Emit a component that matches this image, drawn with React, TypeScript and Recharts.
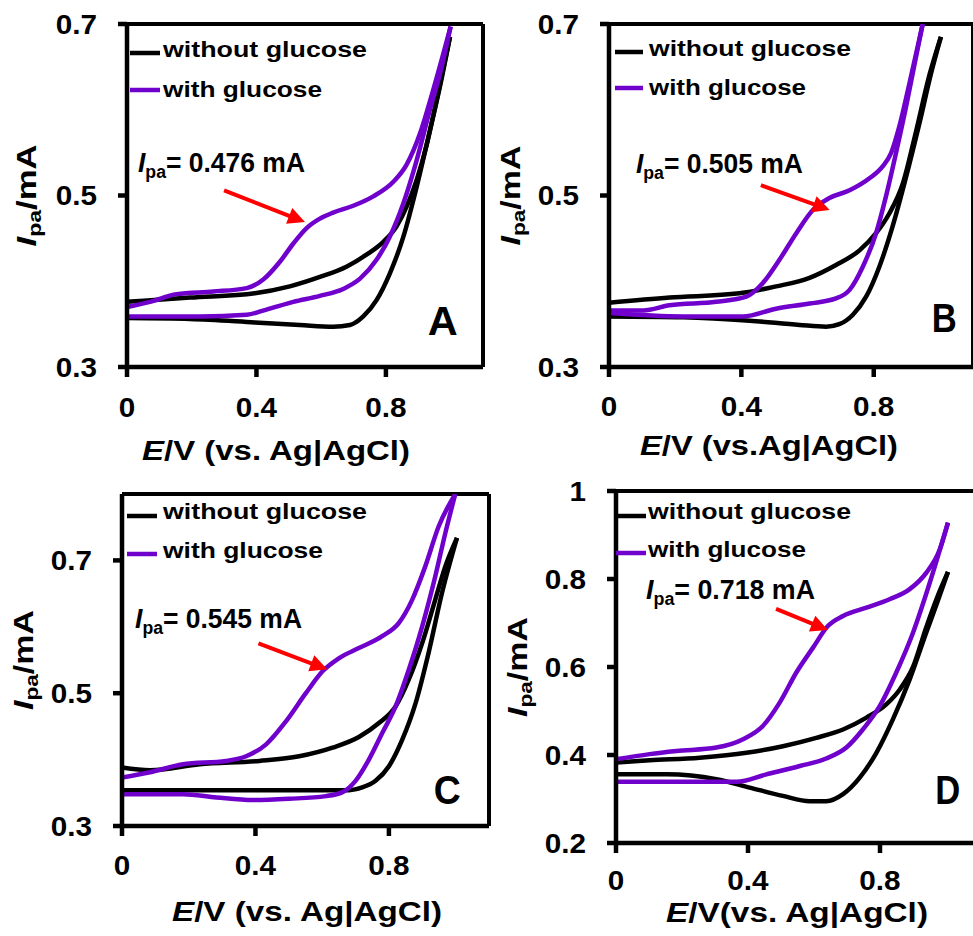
import React from 'react';
import {
  LineChart,
  Line,
  XAxis,
  YAxis,
  ReferenceLine,
  ReferenceDot,
  Legend,
} from 'recharts';

// ---------------- data: [E (V vs Ag|AgCl), I (mA)] ----------------
const aBlackFwd = [[0, 0.376], [0.195, 0.381], [0.395, 0.386], [0.503, 0.394], [0.596, 0.405], [0.678, 0.417], [0.74, 0.431], [0.792, 0.446], [0.833, 0.464], [0.864, 0.487], [0.895, 0.518], [0.926, 0.559], [0.956, 0.61], [0.998, 0.685]];
const aBlackRev = [[0, 0.357], [0.195, 0.356], [0.395, 0.352], [0.534, 0.349], [0.637, 0.347], [0.689, 0.349], [0.73, 0.359], [0.771, 0.378], [0.812, 0.409], [0.854, 0.452], [0.895, 0.51], [0.936, 0.576], [0.967, 0.627], [0.998, 0.685]];
const aPurpleFwd = [[0, 0.37], [0.071, 0.376], [0.153, 0.385], [0.267, 0.388], [0.37, 0.392], [0.421, 0.402], [0.473, 0.423], [0.514, 0.444], [0.555, 0.462], [0.596, 0.473], [0.637, 0.48], [0.699, 0.488], [0.761, 0.499], [0.823, 0.516], [0.864, 0.536], [0.905, 0.572], [0.946, 0.623], [1.0, 0.697]];
const aPurpleRev = [[0, 0.359], [0.225, 0.359], [0.37, 0.361], [0.431, 0.367], [0.514, 0.376], [0.596, 0.383], [0.668, 0.391], [0.72, 0.403], [0.771, 0.425], [0.812, 0.452], [0.854, 0.491], [0.895, 0.541], [0.936, 0.6], [0.967, 0.642], [1.0, 0.697]];

const bBlackFwd = [[0, 0.375], [0.183, 0.381], [0.394, 0.386], [0.505, 0.394], [0.606, 0.404], [0.686, 0.419], [0.757, 0.436], [0.807, 0.456], [0.847, 0.479], [0.888, 0.514], [0.928, 0.575], [0.968, 0.64], [1.003, 0.685]];
const bBlackRev = [[0, 0.359], [0.223, 0.358], [0.425, 0.354], [0.576, 0.349], [0.656, 0.347], [0.696, 0.35], [0.737, 0.361], [0.777, 0.382], [0.817, 0.417], [0.857, 0.464], [0.898, 0.522], [0.938, 0.584], [0.973, 0.642], [1.003, 0.685]];
const bPurpleFwd = [[0, 0.366], [0.103, 0.366], [0.183, 0.372], [0.324, 0.376], [0.415, 0.382], [0.465, 0.398], [0.515, 0.425], [0.566, 0.456], [0.616, 0.483], [0.666, 0.497], [0.727, 0.506], [0.787, 0.52], [0.827, 0.534], [0.852, 0.549], [0.877, 0.58], [0.908, 0.631], [0.948, 0.7]];
const bPurpleRev = [[0, 0.363], [0.223, 0.359], [0.405, 0.359], [0.505, 0.368], [0.606, 0.374], [0.686, 0.38], [0.727, 0.39], [0.767, 0.417], [0.807, 0.456], [0.837, 0.499], [0.867, 0.549], [0.898, 0.604], [0.928, 0.662], [0.948, 0.7]];

const cBlackFwd = [[0, 0.388], [0.084, 0.384], [0.233, 0.393], [0.412, 0.398], [0.531, 0.405], [0.631, 0.418], [0.71, 0.434], [0.77, 0.455], [0.82, 0.48], [0.86, 0.521], [0.9, 0.576], [0.939, 0.641], [0.969, 0.691], [1.004, 0.734]];
const cBlackRev = [[0, 0.354], [0.332, 0.354], [0.681, 0.354], [0.72, 0.358], [0.76, 0.368], [0.8, 0.39], [0.84, 0.43], [0.88, 0.485], [0.919, 0.561], [0.959, 0.651], [1.004, 0.734]];
const cPurpleFwd = [[0, 0.373], [0.084, 0.381], [0.183, 0.393], [0.312, 0.398], [0.372, 0.405], [0.432, 0.423], [0.492, 0.458], [0.551, 0.5], [0.601, 0.533], [0.651, 0.553], [0.71, 0.568], [0.78, 0.586], [0.83, 0.606], [0.87, 0.641], [0.909, 0.691], [0.949, 0.751], [0.999, 0.8]];
const cPurpleRev = [[0, 0.348], [0.183, 0.348], [0.283, 0.343], [0.392, 0.339], [0.501, 0.341], [0.611, 0.345], [0.661, 0.351], [0.7, 0.368], [0.74, 0.4], [0.78, 0.44], [0.82, 0.48], [0.86, 0.536], [0.9, 0.601], [0.939, 0.676], [0.969, 0.741], [0.999, 0.8]];

const dBlackFwd = [[0, 0.383], [0.102, 0.388], [0.254, 0.394], [0.395, 0.405], [0.506, 0.42], [0.607, 0.439], [0.688, 0.458], [0.759, 0.485], [0.819, 0.515], [0.86, 0.549], [0.9, 0.6], [0.94, 0.69], [0.971, 0.754], [1.006, 0.816]];
const dBlackRev = [[0, 0.356], [0.153, 0.356], [0.304, 0.345], [0.405, 0.326], [0.506, 0.307], [0.587, 0.295], [0.637, 0.295], [0.688, 0.311], [0.738, 0.348], [0.789, 0.405], [0.839, 0.481], [0.89, 0.572], [0.94, 0.678], [0.975, 0.75], [1.006, 0.816]];
const dPurpleFwd = [[0, 0.39], [0.102, 0.402], [0.183, 0.409], [0.304, 0.417], [0.385, 0.436], [0.445, 0.466], [0.496, 0.519], [0.546, 0.587], [0.597, 0.644], [0.642, 0.693], [0.688, 0.716], [0.759, 0.735], [0.829, 0.754], [0.89, 0.777], [0.94, 0.814], [0.981, 0.867], [1.006, 0.928]];
const dPurpleRev = [[0, 0.339], [0.153, 0.339], [0.365, 0.339], [0.456, 0.356], [0.557, 0.375], [0.637, 0.392], [0.698, 0.417], [0.748, 0.458], [0.799, 0.511], [0.849, 0.587], [0.9, 0.678], [0.951, 0.792], [1.006, 0.928]];

// ---------------- axes / labels ----------------
const eDomain = [0, 1.1];
const eTicks = [0, 0.4, 0.8];
const iTicksABC = [0.3, 0.5, 0.7];
const iTicksD = [0.2, 0.4, 0.6, 0.8, 1];
const legendNames = ['without glucose', 'with glucose'];
const panelLetters = ['A', 'B', 'C', 'D'];
const peakValues = ['0.476', '0.505', '0.545', '0.718'];
const xTitleRest = ['/V (vs. Ag|AgCl)', '/V (vs.Ag|AgCl)', '/V (vs. Ag|AgCl)', '/V(vs. Ag|AgCl)'];

// ---------------- styles ----------------
const FONT = '"Liberation Sans", Arial, Helvetica, sans-serif';
const BLACK = '#000000';
const PURPLE = '#7000CC';
const RED = '#FF0000';
const PAGE_W = 973;
const PAGE_H = 936;
const CHART_W = 1000;
const Y_AXIS_W = 60;
const X_AXIS_H = 60;
const TICK_FS = 27;
const TITLE_FS = 27;
const SUB_FS = 18;
const LEG_FS = 22;
const NOTE_FS = 27;
const LETTER_FS = 40;
const LINE_W = 4.5;
const AXIS_W = 4.5;
const FRAME_W = 4;
const LEG_W = 270;
const LEG_H = 90;

const textStyle: React.CSSProperties = { fontFamily: FONT, fontWeight: 700, fill: '#000' };

const layouts = [
  {
    left: 127, top: 24, width: 356, height: 343, yDomain: [0.3, 0.7], yTicks: iTicksABC, tickMarginX: 21,
    xTitle: { cx: 276, base: 460, len: 268 }, yTitle: { bx: 36, len: 102 },
    legend: { x0: 130, x1: 160, tx: 163, l1: 53, l2: 90, b1: 57, b2: 97, w1: 204, w2: 159 },
    note: { E: 0.034, I: 0.527, len: 167 }, arrow: [[0.3, 0.506], [0.55, 0.469]], letter: { E: 0.976, I: 0.337, len: 30 },
  },
  {
    left: 609, top: 24, width: 364, height: 343, yDomain: [0.3, 0.7], yTicks: iTicksABC, tickMarginX: 20,
    xTitle: { cx: 769, base: 455, len: 258 }, yTitle: { bx: 520, len: 100 },
    legend: { x0: 615, x1: 643, tx: 649, l1: 52, l2: 88, b1: 56, b2: 95, w1: 202, w2: 157 },
    note: { E: 0.0815, I: 0.526, len: 167 }, arrow: [[0.459, 0.512], [0.667, 0.483]], letter: { E: 1.013, I: 0.341, len: 25 },
  },
  {
    left: 122, top: 494, width: 367, height: 332, yDomain: [0.3, 0.8], yTicks: iTicksABC, tickMarginX: 20,
    xTitle: { cx: 307, base: 921, len: 270 }, yTitle: { bx: 33, len: 100 },
    legend: { x0: 127, x1: 157, tx: 163, l1: 516, l2: 554, b1: 519, b2: 558, w1: 204, w2: 160 },
    note: { E: 0.039, I: 0.598, len: 167 }, arrow: [[0.409, 0.575], [0.615, 0.536]], letter: { E: 0.975, I: 0.333, len: 27 },
  },
  {
    left: 616, top: 491, width: 363, height: 352, yDomain: [0.2, 1], yTicks: iTicksD, tickMarginX: 18,
    xTitle: { cx: 797, base: 922, len: 262 }, yTitle: { bx: 527, len: 100 },
    legend: { x0: 616, x1: 646, tx: 648, l1: 516, l2: 553, b1: 519, b2: 557, w1: 203, w2: 158 },
    note: { E: 0.091, I: 0.755, len: 169 }, arrow: [[0.485, 0.732], [0.642, 0.684]], letter: { E: 1.005, I: 0.289, len: 25 },
  },
];

const pts = (a: number[][]) => a.map(([E, I]) => ({ E, I }));

const panels = [
  { black: [aBlackFwd, aBlackRev], purple: [aPurpleFwd, aPurpleRev] },
  { black: [bBlackFwd, bBlackRev], purple: [bPurpleFwd, bPurpleRev] },
  { black: [cBlackFwd, cBlackRev], purple: [cPurpleFwd, cPurpleRev] },
  { black: [dBlackFwd, dBlackRev], purple: [dPurpleFwd, dPurpleRev] },
];

const CHAR_W: Record<string, number> = { '.': 0.278 };
const estWidth = (s: string, fs: number) =>
  s.split('').reduce((acc, c) => acc + (CHAR_W[c] ?? 0.556), 0) * fs;

const fmt = (v: number) => String(v);

const XTick = (props: any) => {
  const { x, y, payload } = props;
  const s = fmt(payload.value);
  return (
    <text x={x} y={y} dy="0.71em" textAnchor="middle" fontSize={TICK_FS} style={textStyle}
      textLength={estWidth(s, TICK_FS) * 1.1} lengthAdjust="spacingAndGlyphs">
      {s}
    </text>
  );
};

const YTick = (props: any) => {
  const { x, y, payload } = props;
  const s = fmt(payload.value);
  return (
    <text x={x} y={y} dy="0.355em" textAnchor="end" fontSize={TICK_FS} style={textStyle}
      textLength={estWidth(s, TICK_FS) * 1.1} lengthAdjust="spacingAndGlyphs">
      {s}
    </text>
  );
};

const Arrow = (p: any) => {
  const { x1, y1, x2, y2 } = p;
  const dx = x2 - x1;
  const dy = y2 - y1;
  const len = Math.hypot(dx, dy) || 1;
  const ux = dx / len;
  const uy = dy / len;
  const hl = 17;
  const hw = 8.5;
  const bx = x2 - ux * hl;
  const by = y2 - uy * hl;
  return (
    <g>
      <line x1={x1} y1={y1} x2={bx + ux * 2} y2={by + uy * 2} stroke={RED} strokeWidth={4} />
      <polygon points={`${x2},${y2} ${bx - uy * hw},${by + ux * hw} ${bx + uy * hw},${by - ux * hw}`} fill={RED} />
    </g>
  );
};

function Panel({ idx }: { idx: number }) {
  const L = layouts[idx];
  const P = panels[idx];
  const margin = {
    top: L.top,
    left: L.left - Y_AXIS_W,
    right: CHART_W - (L.left + L.width),
    bottom: PAGE_H - (L.top + L.height) - X_AXIS_H,
  };
  const lg = L.legend;
  const ox = lg.x0 - 4;
  const oy = lg.b1 - 25;
  const rows = [
    { l: lg.l1, b: lg.b1, w: lg.w1 },
    { l: lg.l2, b: lg.b2, w: lg.w2 },
  ];
  const cy = L.top + L.height / 2;

  const legendContent = (props: any) => {
    const items = (props.payload || []).filter((p: any) => p.type !== 'none' && legendNames.includes(p.value));
    const uniq: any[] = [];
    legendNames.forEach((n) => {
      const f = items.find((p: any) => p.value === n);
      if (f) uniq.push(f);
    });
    return (
      <svg width={LEG_W} height={LEG_H} style={{ display: 'block', overflow: 'visible' }}>
        {uniq.map((it, i) => {
          const r = rows[i];
          return (
            <g key={it.value}>
              <line x1={lg.x0 - ox} x2={lg.x1 - ox} y1={r.l - oy} y2={r.l - oy} stroke={it.color} strokeWidth={4.5} />
              <text x={lg.tx - ox} y={r.b - oy} fontSize={LEG_FS} style={textStyle}
                textLength={r.w} lengthAdjust="spacingAndGlyphs">
                {it.value}
              </text>
            </g>
          );
        })}
      </svg>
    );
  };

  const xTitle = () => (
    <text x={L.xTitle.cx} y={L.xTitle.base} textAnchor="middle" fontSize={TITLE_FS} style={textStyle}
      textLength={L.xTitle.len} lengthAdjust="spacingAndGlyphs">
      <tspan fontStyle="italic">E</tspan>
      <tspan>{xTitleRest[idx]}</tspan>
    </text>
  );

  const yTitle = () => (
    <text x={L.yTitle.bx} y={cy} transform={`rotate(-90 ${L.yTitle.bx} ${cy})`} textAnchor="middle"
      fontSize={TITLE_FS} style={textStyle} textLength={L.yTitle.len} lengthAdjust="spacingAndGlyphs">
      <tspan fontStyle="italic">I</tspan>
      <tspan fontSize={SUB_FS} dy={5}>pa</tspan>
      <tspan dy={-5}>/mA</tspan>
    </text>
  );

  return (
    <div style={{ position: 'absolute', left: 0, top: 0 }}>
      <LineChart width={CHART_W} height={PAGE_H} margin={margin}>
        <XAxis
          type="number" dataKey="E" domain={eDomain} ticks={eTicks} allowDataOverflow interval={0}
          height={X_AXIS_H} tickSize={10} tickMargin={L.tickMarginX}
          axisLine={{ stroke: BLACK, strokeWidth: AXIS_W }} tickLine={{ stroke: BLACK, strokeWidth: AXIS_W }}
          tick={XTick} label={xTitle}
        />
        <YAxis
          type="number" dataKey="I" domain={L.yDomain} ticks={L.yTicks} allowDataOverflow interval={0}
          width={Y_AXIS_W} tickSize={9} tickMargin={21}
          axisLine={{ stroke: BLACK, strokeWidth: AXIS_W }} tickLine={{ stroke: BLACK, strokeWidth: AXIS_W }}
          tick={YTick} label={yTitle}
        />
        <ReferenceLine y={L.yDomain[1]} stroke={BLACK} strokeWidth={FRAME_W} ifOverflow="visible" />
        <ReferenceLine x={eDomain[1]} stroke={BLACK} strokeWidth={FRAME_W} ifOverflow="visible" />
        <Line data={pts(P.black[0])} dataKey="I" name={legendNames[0]} type="monotone" stroke={BLACK}
          strokeWidth={LINE_W} dot={false} activeDot={false} isAnimationActive={false} />
        <Line data={pts(P.black[1])} dataKey="I" name="without glucose (reverse)" legendType="none" type="monotone"
          stroke={BLACK} strokeWidth={LINE_W} dot={false} activeDot={false} isAnimationActive={false} />
        <Line data={pts(P.purple[0])} dataKey="I" name={legendNames[1]} type="monotone" stroke={PURPLE}
          strokeWidth={LINE_W} dot={false} activeDot={false} isAnimationActive={false} />
        <Line data={pts(P.purple[1])} dataKey="I" name="with glucose (reverse)" legendType="none" type="monotone"
          stroke={PURPLE} strokeWidth={LINE_W} dot={false} activeDot={false} isAnimationActive={false} />
        <ReferenceLine
          segment={[{ x: L.arrow[0][0], y: L.arrow[0][1] }, { x: L.arrow[1][0], y: L.arrow[1][1] }]}
          ifOverflow="visible" shape={Arrow}
        />
        <ReferenceDot x={L.note.E} y={L.note.I} r={0} ifOverflow="visible"
          shape={(p: any) => (
            <text x={p.cx} y={p.cy} fontSize={NOTE_FS} style={textStyle}
              textLength={L.note.len} lengthAdjust="spacingAndGlyphs">
              <tspan fontStyle="italic">I</tspan>
              <tspan fontSize={SUB_FS} dy={6}>pa</tspan>
              <tspan dy={-6}>{`= ${peakValues[idx]} mA`}</tspan>
            </text>
          )}
        />
        <ReferenceDot x={L.letter.E} y={L.letter.I} r={0} ifOverflow="visible"
          shape={(p: any) => (
            <text x={p.cx} y={p.cy} textAnchor="middle" fontSize={LETTER_FS} style={textStyle}
              textLength={L.letter.len} lengthAdjust="spacingAndGlyphs">
              {panelLetters[idx]}
            </text>
          )}
        />
        <Legend
          layout="horizontal" verticalAlign="middle" align="center" width={LEG_W} height={LEG_H}
          wrapperStyle={{ left: ox, top: oy, width: LEG_W, height: LEG_H }}
          content={legendContent}
        />
      </LineChart>
    </div>
  );
}

export default function App() {
  return (
    <div style={{ position: 'absolute', left: 0, top: 0, width: PAGE_W, height: PAGE_H, overflow: 'hidden', background: '#fff' }}>
      {layouts.map((_, i) => (
        <Panel key={i} idx={i} />
      ))}
    </div>
  );
}
